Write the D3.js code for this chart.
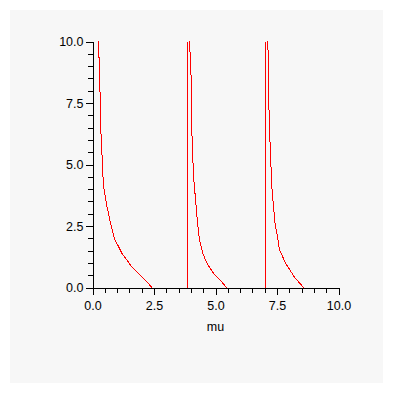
<!DOCTYPE html>
<html>
<head>
<meta charset="utf-8">
<script src="https://cdn.jsdelivr.net/npm/d3@7"></script>
<style>
  html, body { margin: 0; padding: 0; background: #ffffff; }
  svg { display: block; }
  text { font-family: "Liberation Sans", Arial, Helvetica, sans-serif; fill: #000; }
</style>
</head>
<body>
<svg id="chart" width="393" height="393"></svg>
<script>
// ---- data ----
const branch1 = [[0.24,10],[0.27,9.2],[0.31,7.78],[0.34,6.35],[0.38,5.53],[0.41,4.79],[0.45,4.11],
  [0.52,3.70],[0.585,3.29],[0.65,3.02],[0.72,2.68],[0.79,2.41],[0.85,2.13],[0.92,1.93],[1.06,1.66],
  [1.195,1.39],[1.40,1.11],[1.60,0.84],[1.80,0.64],[1.94,0.50],[2.21,0.23],[2.41,0]];
const branch2 = [[3.93,10],[3.97,9.48],[4.01,8.49],[4.05,5.84],[4.08,5.18],[4.11,4.5],[4.19,3.55],
  [4.26,2.73],[4.35,1.92],[4.49,1.37],[4.66,0.97],[4.93,0.56],[5.20,0.29],[5.45,0]];
const branch3 = [[7.10,10],[7.14,9.59],[7.18,6.9],[7.22,5.81],[7.29,4.09],[7.36,3.28],[7.43,2.5],
  [7.50,2.19],[7.60,1.54],[7.86,0.97],[8.21,0.42],[8.58,0]];
const jumpMu = [3.86, 7.03];          // vertical connecting lines at the discontinuities
const majorTicks = [0, 2.5, 5, 7.5, 10];
const minorTicks = d3.range(0, 10.01, 0.5);
const xLabel = "mu";

// ---- drawing ----
const svg = d3.select("#chart");
svg.append("rect").attr("x", 10).attr("y", 10).attr("width", 373).attr("height", 373)
   .attr("fill", "#f7f7f7");

const x = d3.scaleLinear().domain([0, 10]).range([92.5, 338.5]);
const y = d3.scaleLinear().domain([0, 10]).range([287.5, 41.5]);

const line = d3.line().x(d => x(d[0])).y(d => y(d[1]));
const curves = svg.append("g").attr("fill", "none").attr("stroke", "#ff0000")
  .attr("stroke-width", 1).attr("shape-rendering", "crispEdges");
[branch1, branch2, branch3].forEach(b => curves.append("path").attr("d", line(b)));
jumpMu.forEach(m => curves.append("path").attr("d", line([[m, 0], [m, 10]])));

function styleAxis(g) {
  g.selectAll("path, line").attr("stroke", "#000").attr("shape-rendering", "crispEdges");
  g.selectAll("text").attr("font-size", "12.5px").attr("font-family", "'Liberation Sans', Arial, sans-serif");
}

// minor ticks
svg.append("g").attr("transform", `translate(0,${y(0)})`)
  .call(d3.axisBottom(x).tickValues(minorTicks).tickSize(5).tickFormat(""))
  .call(g => g.select(".domain").remove()).call(styleAxis);
svg.append("g").attr("transform", `translate(${x(0)},0)`)
  .call(d3.axisLeft(y).tickValues(minorTicks).tickSize(5).tickFormat(""))
  .call(g => g.select(".domain").remove()).call(styleAxis);

// major ticks + domain
svg.append("g").attr("transform", `translate(0,${y(0)})`)
  .call(d3.axisBottom(x).tickValues(majorTicks).tickSize(7).tickSizeOuter(0)
        .tickPadding(7).tickFormat(d3.format(".1f")))
  .call(styleAxis);
svg.append("g").attr("transform", `translate(${x(0)},0)`)
  .call(d3.axisLeft(y).tickValues(majorTicks).tickSize(7).tickSizeOuter(0)
        .tickPadding(2).tickFormat(d3.format(".1f")))
  .call(styleAxis);

svg.append("text").attr("x", x(5)).attr("y", 331).attr("text-anchor", "middle")
  .attr("font-size", "12.5px").text(xLabel);
</script>
</body>
</html>
